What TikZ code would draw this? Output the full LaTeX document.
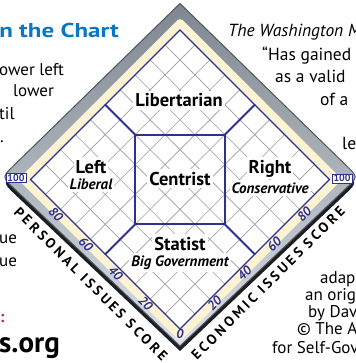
\documentclass[tikz,border=0pt]{standalone}
\usepackage{fontspec}
\setmainfont{PT Sans}
\newfontfamily\axisfont[LetterSpace=22]{PT Sans}
\usetikzlibrary{%
    calc,%
    positioning%
}

\definecolor{chartnavy}{HTML}{2E3192}
\definecolor{chartcream}{HTML}{FBF3D2}
\definecolor{gridgray}{HTML}{9C9C9C}
\definecolor{headblue}{HTML}{0B77C2}
\definecolor{framegray}{HTML}{7E868F}
\definecolor{framelight}{HTML}{DCE1E7}
\definecolor{frameedge}{HTML}{4F565E}
\definecolor{shadowblack}{HTML}{1C1F22}
\definecolor{dotred}{HTML}{C2185B}

\tikzset{
    gridline/.style={gridgray, line width=0.6pt},
    regionline/.style={chartnavy, line width=1.8pt, line cap=round},
    edgeline/.style={chartnavy, line width=1.2pt},
    region/.style={fill=white, inner xsep=2pt, inner ysep=2.5pt, font=\bfseries\fontsize{18.5}{18.5}\selectfont},
    subregion/.style={fill=white, inner xsep=2pt, inner ysep=2.5pt, font=\bfseries\itshape\fontsize{15}{15}\selectfont},
    tick/.style={text=chartnavy, inner sep=0pt, font=\bfseries\itshape\fontsize{13}{13}\selectfont},
    hundred/.style={draw=chartnavy, fill=white, text=chartnavy, line width=0.8pt, inner xsep=1.5pt, inner ysep=0.8pt, font=\bfseries\fontsize{10}{10}\selectfont},
    axistitle/.style={inner sep=0pt, font=\axisfont\bfseries\fontsize{14}{14}\selectfont},
    copy/.style={anchor=base west, inner sep=0pt, font=\fontsize{17}{17}\selectfont},
}

\begin{document}
\begin{tikzpicture}[x=1pt,y=-1pt]
    \useasboundingbox (0,0) rectangle (355,363);

    % frame
    \coordinate (sT) at (180,9);   \coordinate (sL) at (3,183);
    \coordinate (sB) at (180,351); \coordinate (sR) at (357,183);
    \coordinate (fT) at (180,3.5); \coordinate (fL) at (2,177);
    \coordinate (fB) at (180,346); \coordinate (fR) at (358,177);
    \coordinate (cT) at (180,17.5); \coordinate (cL) at (18,179.5);
    \coordinate (cB) at (180,341.5); \coordinate (cR) at (342,179.5);
    \coordinate (gT) at (180,30);  \coordinate (gL) at (30.5,179.5);
    \coordinate (gB) at (180,329); \coordinate (gR) at (329.5,179.5);
    \coordinate (C) at (180,179.5);

    \fill[shadowblack] (sT) -- ($(sL)!16pt!(sT)$) .. controls (sL) .. ($(sL)!16pt!(sB)$) -- (sB)
        -- ($(sR)!16pt!(sB)$) .. controls (sR) .. ($(sR)!16pt!(sT)$) -- cycle;
    \shade[top color=framegray, bottom color=framelight, draw=frameedge, line width=1pt]
        (fT) -- ($(fL)!16pt!(fT)$) .. controls (fL) .. ($(fL)!16pt!(fB)$) -- (fB)
        -- ($(fR)!16pt!(fB)$) .. controls (fR) .. ($(fR)!16pt!(fT)$) -- cycle;
    \fill[chartcream, rounded corners=4pt] (cT) -- (cL) -- (cB) -- (cR) -- cycle;
    \fill[white] (gT) -- (gL) -- (gB) -- (gR) -- cycle;

    % grid
    \foreach \i in {1,...,9}{
        \draw[gridline] ($(gB)!\i*0.1!(gR)$) -- ($(gL)!\i*0.1!(gT)$);
        \draw[gridline] ($(gB)!\i*0.1!(gL)$) -- ($(gR)!\i*0.1!(gT)$);
    }

    % regions
    \coordinate (mUL) at ($(gL)!0.5!(gT)$);
    \coordinate (mUR) at ($(gR)!0.5!(gT)$);
    \coordinate (mLL) at ($(gL)!0.5!(gB)$);
    \coordinate (mLR) at ($(gR)!0.5!(gB)$);
    \coordinate (qUL) at ($(C)!0.6!(mUL)$);
    \coordinate (qUR) at ($(C)!0.6!(mUR)$);
    \coordinate (qLL) at ($(C)!0.6!(mLL)$);
    \coordinate (qLR) at ($(C)!0.6!(mLR)$);
    \draw[regionline] (qUL) -- (qUR) -- (qLR) -- (qLL) -- cycle;
    \draw[regionline] (qUL) -- (mUL);
    \draw[regionline] (qUR) -- (mUR);
    \draw[regionline] (qLL) -- (mLL);
    \draw[regionline] (qLR) -- (mLR);
    \draw[edgeline] (gT) -- (gL) -- (gB) -- (gR) -- cycle;

    \node[region, anchor=base] (libertarian) at (179,107) {Libertarian};
    \node[region, anchor=base] (centrist) at (180,185) {Centrist};
    \node[region, anchor=base] (leftlbl) at (91,173) {Left};
    \node[subregion, below=0pt of leftlbl] (liberal) {Liberal};
    \node[region, anchor=base] (rightlbl) at (270,173) {Right};
    \node[subregion, below=0pt of rightlbl] (conservative) {Conservative};
    \node[region, anchor=base] (statist) at (180,250) {Statist};
    \node[subregion, below=0pt of statist] (biggov) {Big Government};

    % scores
    \node[tick, rotate=-45] (p20) at ($(gB)!0.2!(gL)+(-4.5,4.5)$) {20};
    \node[tick, rotate=-45] (p40) at ($(gB)!0.4!(gL)+(-4.5,4.5)$) {40};
    \node[tick, rotate=-45] (p60) at ($(gB)!0.6!(gL)+(-4.5,4.5)$) {60};
    \node[tick, rotate=-45] (p80) at ($(gB)!0.8!(gL)+(-4.5,4.5)$) {80};
    \node[tick, rotate=45] (e20) at ($(gB)!0.2!(gR)+(4.5,4.5)$) {20};
    \node[tick, rotate=45] (e40) at ($(gB)!0.4!(gR)+(4.5,4.5)$) {40};
    \node[tick, rotate=45] (e60) at ($(gB)!0.6!(gR)+(4.5,4.5)$) {60};
    \node[tick, rotate=45] (e80) at ($(gB)!0.8!(gR)+(4.5,4.5)$) {80};
    \node[tick] (zero) at ($(gB)+(0,5)$) {0};
    \node[hundred] (p100) at (16,178) {100};
    \node[hundred] (e100) at (342,178.5) {100};

    \node[axistitle, rotate=-45] (personal) at (91,284) {PERSONAL ISSUES SCORE};
    \node[axistitle, rotate=45] (economic) at (268,283) {ECONOMIC ISSUES SCORE};

    % text round the chart
    \node[copy, text=headblue, xscale=1.25, font=\bfseries\fontsize{20}{20}\selectfont] (headline) at (-1,38) {n the Chart};
    \node[copy] (l1) at (-1,76) {ower left};
    \node[copy] (l2) at (13,97) {lower};
    \node[copy] (l3) at (-1,120) {til};
    \node[copy] (l4) at (0,143) {.};
    \node[copy] (l5) at (-1,243) {ue};
    \node[copy] (l6) at (-1,266) {ue};
    \node[copy, text=dotred, font=\bfseries\fontsize{16}{16}\selectfont] (l7) at (0,322) {:};
    \node[copy, font=\bfseries\fontsize{29}{29}\selectfont] (site) at (-1,352) {s.org};

    \node[copy, font=\itshape\fontsize{17.5}{17.5}\selectfont] (r1) at (228,37) {The Washington M};
    \node[copy, font=\fontsize{17.5}{17.5}\selectfont] (r2) at (262,61) {“Has gained};
    \node[copy, font=\fontsize{17.5}{17.5}\selectfont] (r3) at (275,83) {as a valid};
    \node[copy, font=\fontsize{17.5}{17.5}\selectfont] (r4) at (320,106) {of a};
    \node[copy, font=\fontsize{17.5}{17.5}\selectfont] (r5) at (342,150) {le};

    \node[copy] (b1) at (320,283) {adap};
    \node[copy] (b2) at (305,300) {an orig};
    \node[copy] (b3) at (308,317) {by Dav};
    \node[copy] (b4) at (297,334) {© The A};
    \node[copy] (b5) at (272,353) {for Self-Gov};
\end{tikzpicture}
\end{document}
